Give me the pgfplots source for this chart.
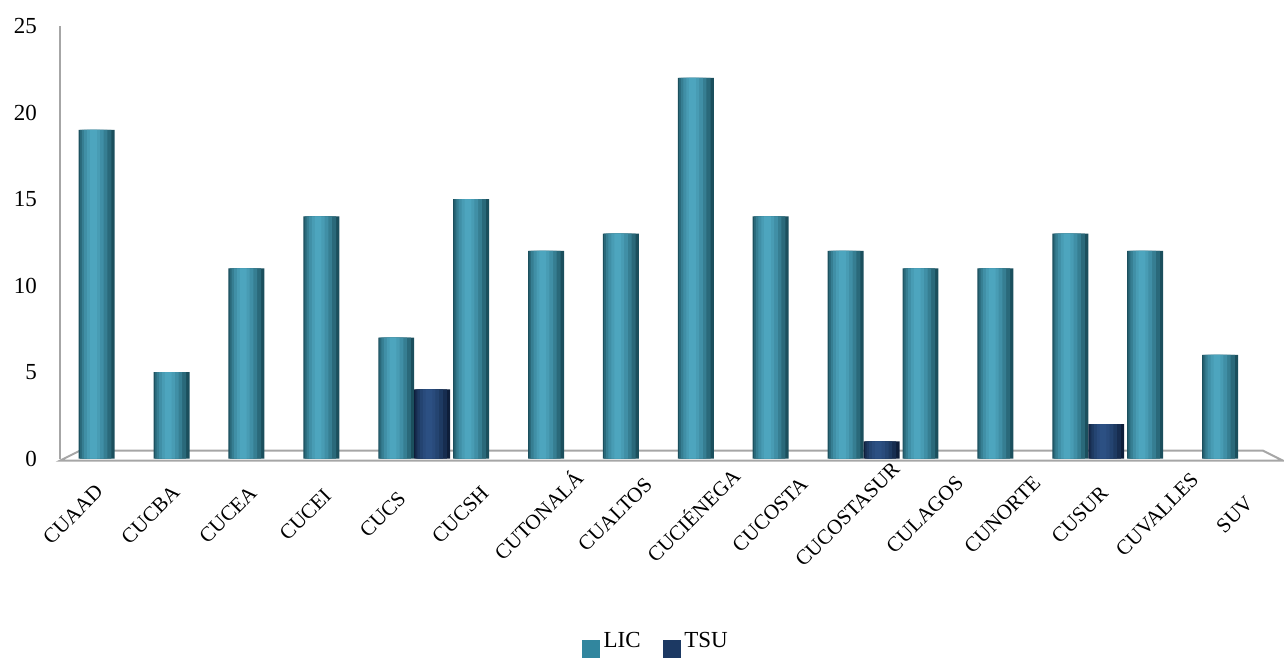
\documentclass[border=0pt]{standalone}
\usepackage{fontspec}
\setmainfont{Liberation Serif}
\usepackage{pgfplots}
\usepackage{pgfplotstable}
\pgfplotsset{compat=1.18}

\definecolor{licdark}{HTML}{1B4F5D}
\definecolor{liclight}{HTML}{4DA5BE}
\definecolor{licmid}{HTML}{31869E}
\definecolor{tsudark}{HTML}{0E1E3A}
\definecolor{tsulight}{HTML}{2C5083}
\definecolor{tsumid}{HTML}{1C3963}
\definecolor{floorgray}{HTML}{A6A6A6}

\pgfplotstableread{
x lic
0 19
1 5
2 11
3 14
4 7
5 15
6 12
7 13
8 22
9 14
10 12
11 11
12 11
13 13
14 12
15 6
}\lictable

\pgfplotstableread{
x tsu
4 4
10 1
13 2
}\tsutable

% one band of a cylinder-like bar: table, column, width, shift, colour
\newcommand{\band}[5]{%
  \addplot[fill=#5, draw=none, bar width=#3, bar shift=#4, forget plot] table[x=x, y=#2] {#1};}

\begin{document}
\begin{tikzpicture}
\begin{axis}[
    name=ax,
    scale only axis,
    width=612pt, height=216.5pt,
    ybar,
    xmin=-0.73, xmax=15.6,
    ymin=0, ymax=25,
    ytick={0,5,10,15,20,25},
    xtick=\empty,
    yticklabel style={font=\fontsize{11.5}{13}\selectfont, xshift=-8pt},
    /pgf/number format/assume math mode=true,
    major tick length=0pt,
    axis lines=left,
    x axis line style={draw=none},
    y axis line style={-, draw=floorgray, line width=1pt},
    clip=false,
    legend style={at={(0.488,-0.427)}, anchor=center, draw=none, legend columns=2,
        font=\fontsize{11.5}{13}\selectfont,
        /tikz/every even column/.append style={column sep=9pt}},
]
% floor
\draw[floorgray, line width=1pt] ([yshift=-1pt]rel axis cs:0,0) -- ([yshift=-1pt]rel axis cs:1,0)
    -- ([shift={(-10pt,4pt)}]rel axis cs:1,0) -- ([shift={(10pt,4pt)}]rel axis cs:0,0) -- cycle;

% LIC bars, banded from the dark rim to the highlight
\band{\lictable}{lic}{0.48}{-0.24}{licdark}
\band{\lictable}{lic}{0.42}{-0.254}{liclight!30!licdark}
\band{\lictable}{lic}{0.34}{-0.268}{liclight!55!licdark}
\band{\lictable}{lic}{0.26}{-0.276}{liclight!75!licdark}
\band{\lictable}{lic}{0.17}{-0.281}{liclight!90!licdark}
\band{\lictable}{lic}{0.09}{-0.283}{liclight}
% TSU bars
\band{\tsutable}{tsu}{0.48}{0.24}{tsudark}
\band{\tsutable}{tsu}{0.42}{0.226}{tsulight!30!tsudark}
\band{\tsutable}{tsu}{0.34}{0.212}{tsulight!55!tsudark}
\band{\tsutable}{tsu}{0.26}{0.204}{tsulight!75!tsudark}
\band{\tsutable}{tsu}{0.17}{0.199}{tsulight!90!tsudark}
\band{\tsutable}{tsu}{0.09}{0.197}{tsulight}

\addlegendimage{legend image code/.code={\fill[licmid] (0pt,-8pt) rectangle (8.5pt,0.5pt);}}
\addlegendentry{LIC}
\addlegendimage{legend image code/.code={\fill[tsumid] (0pt,-8pt) rectangle (8.5pt,0.5pt);}}
\addlegendentry{TSU}

% keep the margins of the reference
\path (rel axis cs:0,1) ++(0,13pt);
\path (rel axis cs:0,0) ++(-30pt,-98.5pt);
\end{axis}

% category names sit on the wider front edge of the floor
\begin{axis}[
    at={(ax.south west)}, anchor=south west,
    scale only axis,
    width=612pt, height=216.5pt,
    xmin=-0.658, xmax=15.135,
    ymin=0, ymax=1,
    axis x line=bottom, axis y line=none,
    x axis line style={draw=none},
    major tick length=0pt,
    xtick={0,...,15},
    xticklabels={CUAAD,CUCBA,CUCEA,CUCEI,CUCS,CUCSH,CUTONALÁ,CUALTOS,CUCIÉNEGA,CUCOSTA,CUCOSTASUR,CULAGOS,CUNORTE,CUSUR,CUVALLES,SUV},
    xticklabel style={xshift=-19pt, yshift=-28pt, rotate=45, anchor=center, font=\fontsize{10.5}{12}\selectfont},
]
\end{axis}
\end{tikzpicture}
\end{document}
